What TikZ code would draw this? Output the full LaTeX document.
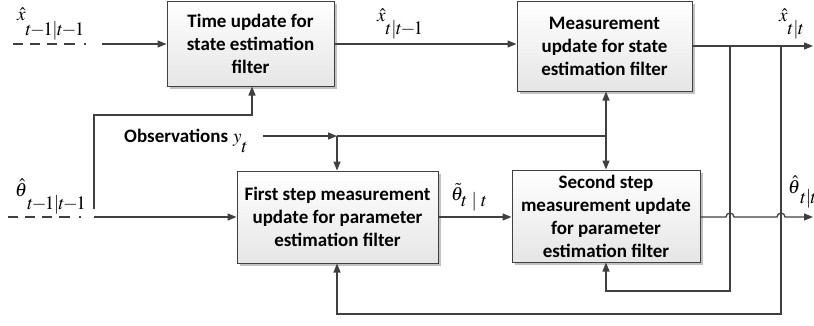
\documentclass[tikz,border=0pt]{standalone}
\usepackage{mathptmx}
\usepackage[no-math]{fontspec}
\newfontfamily\boxfont{Carlito}
\newcommand\tmo{t\mkern-1.5mu{-}\mkern-1.5mu1}
\newcommand\vbarx{\mkern-0.5mu|\mkern-0.5mu}
\usetikzlibrary{arrows.meta,shadows}
\definecolor{ln}{HTML}{404040}
\tikzset{
  boxnode/.style={draw=ln, line width=1pt, top color=white, bottom color=black!10,
    drop shadow={shadow xshift=2.5pt, shadow yshift=-2.5pt, fill=black!40, opacity=0.6},
    align=center, inner sep=0pt,
    font=\boxfont\bfseries\fontsize{19}{23}\selectfont},
  lbl/.style={inner sep=0pt, anchor=base west, font=\fontsize{19}{23}\selectfont},
  obs/.style={inner sep=0pt, anchor=base west, font=\boxfont\bfseries\fontsize{19}{23}\selectfont},
  arr/.style={-{Triangle[length=9pt,width=7pt]}},
  wire/.style={draw=ln, line width=1.3pt},
  dashin/.style={draw=ln, line width=1.3pt, dash pattern=on 10pt off 7pt on 10pt off 7pt on 10pt off 7pt on 11pt off 9pt on 2pt off 20pt}
}
\begin{document}
\begin{tikzpicture}[x=1pt,y=-1pt]
\useasboundingbox (0,0) rectangle (814,325);
% boxes
\node[boxnode, minimum width=167pt, minimum height=85pt] (tu) at (250.5,43.5) {Time update for\\state estimation\\filter};
\node[boxnode, minimum width=175pt, minimum height=90pt] (mu) at (604.5,46) {Measurement\\update for state\\estimation filter};
\node[boxnode, minimum width=201pt, minimum height=92pt] (fs) at (337.5,217) {First step measurement\\update for parameter\\estimation filter};
\node[boxnode, minimum width=188pt, minimum height=92pt] (ss) at (606,216) {Second step\\measurement update\\for parameter\\estimation filter};
% labels
\node[lbl] (lxin) at (17,20) {$\hat{x}$\raisebox{-15pt}{$\tmo\vbarx\tmo$}};
\node[lbl] (lxp) at (377,21) {$\hat{x}$\raisebox{-13pt}{$t\vbarx\tmo$}};
\node[lbl] (lxout) at (779,21) {$\hat{x}$\raisebox{-13pt}{$t\vbarx t$}};
\node[lbl] (lthin) at (15,196) {$\hat{\theta}$\raisebox{-13pt}{$\tmo\vbarx\tmo$}};
\node[lbl] (ltt) at (451,200) {$\tilde{\theta}$\hspace{-2pt}\raisebox{-6pt}{$t\;|\;t$}};
\node[lbl] (lthout) at (788,193) {$\hat{\theta}$\raisebox{-10pt}{$t\vbarx t$}};
\node[obs] (lobs) at (124,142) {Observations};
\node[lbl] (lyt) at (233,142) {$y$\raisebox{-10pt}{$t$}};
% coordinates
\coordinate (xd0) at (13,44);
\coordinate (xs0) at (102,44);
\coordinate (td0) at (8,217);
\coordinate (ts0) at (94,217);
\coordinate (br0) at (94,209);
\coordinate (br1) at (94,115);
\coordinate (br2) at (252,115);
\coordinate (ob0) at (263,136);
\coordinate (j1) at (337,136);
\coordinate (j2) at (606,136);
\coordinate (xo) at (813,46);
\coordinate (v1) at (730,46);
\coordinate (v2) at (781,46);
\coordinate (v1b) at (730,291);
\coordinate (v1c) at (606,291);
\coordinate (v2b) at (781,314);
\coordinate (v2c) at (337,314);
\coordinate (h1) at (726,217);
\coordinate (h2) at (777,217);
\coordinate (tho) at (813,217);
% inputs
\draw[dashin] (xd0) -- (xs0);
\draw[wire,arr] (xs0) -- (tu.west |- xs0);
\draw[dashin] (td0) -- (ts0);
\draw[wire,arr] (ts0) -- (fs.west);
\draw[wire,arr] (br0) -- (br1) -- (br2) -- (tu.south -| br2);
% state path
\draw[wire,arr] (tu.east |- xs0) -- (mu.west |- xs0);
\draw[wire,arr] (mu.east) -- (xo);
% observations
\draw[wire,arr] (ob0) -- (j1);
\draw[wire] (j1) -- (j2);
\draw[wire,arr] (j1) -- (fs.north -| j1);
\draw[wire,arr] (j2) -- (mu.south -| j2);
\draw[wire,arr] (j2) -- (ss.north -| j2);
% parameter path
\draw[wire,arr] (fs.east) -- (ss.west |- fs.east);
\draw[wire,arr] (ss.east |- h1) -- (h1) arc[start angle=180,end angle=0,radius=4pt] -- (h2) arc[start angle=180,end angle=0,radius=4pt] -- (tho);
% feedbacks
\draw[wire,arr] (v1) -- (v1b) -- (v1c) -- (ss.south -| v1c);
\draw[wire,arr] (v2) -- (v2b) -- (v2c) -- (fs.south -| v2c);
\end{tikzpicture}
\end{document}
